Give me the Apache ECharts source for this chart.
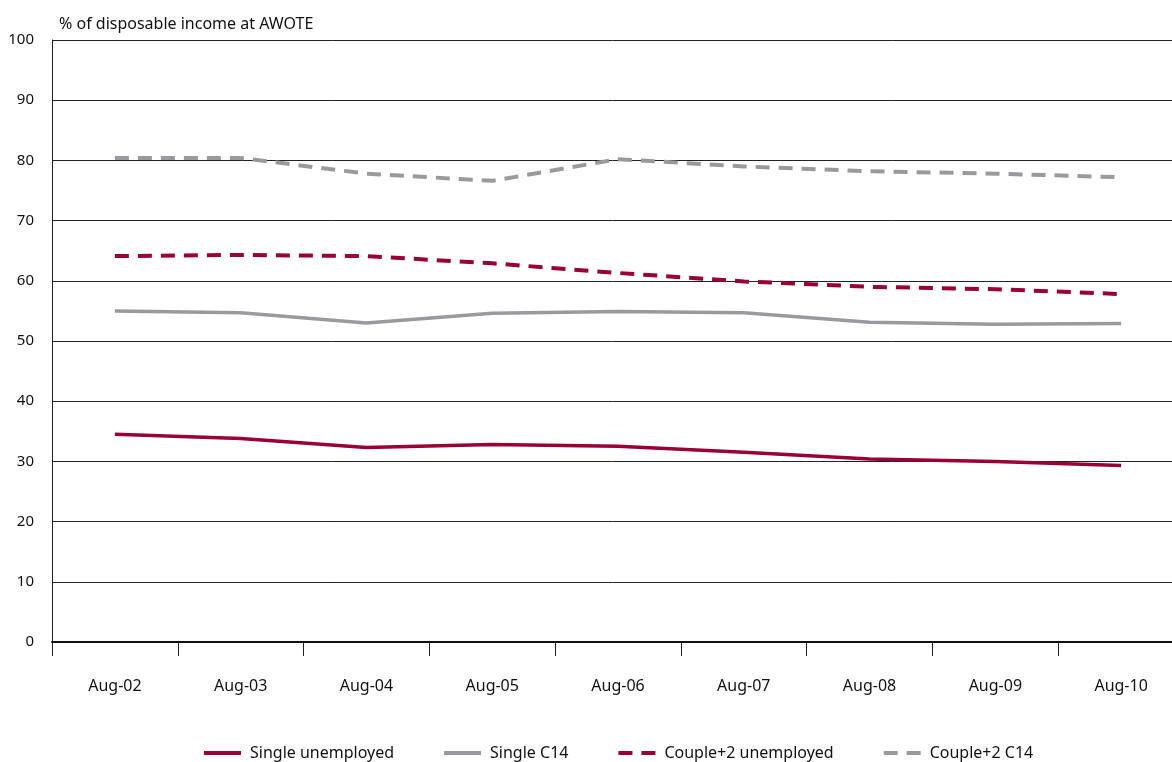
<!DOCTYPE html>
<html>
<head>
<meta charset="utf-8">
<script src="https://cdn.jsdelivr.net/npm/echarts@6/dist/echarts.min.js"></script>
<style>
  html, body { margin: 0; padding: 0; background: #fff; }
  #chart { width: 1172px; height: 762px; }
</style>
</head>
<body>
<div id="chart"></div>
<script>
// Replacement rates by household type, August of each year
const categories = ['Aug-02', 'Aug-03', 'Aug-04', 'Aug-05', 'Aug-06', 'Aug-07', 'Aug-08', 'Aug-09', 'Aug-10'];
const singleUnemployed = [34.5, 33.8, 32.3, 32.8, 32.5, 31.5, 30.4, 30.0, 29.3];
const singleC14 = [55.0, 54.7, 53.0, 54.6, 54.9, 54.7, 53.1, 52.8, 52.9];
const coupleUnemployed = [64.1, 64.3, 64.1, 62.9, 61.3, 59.9, 59.0, 58.6, 57.8];
const coupleC14 = [80.4, 80.4, 77.8, 76.6, 80.2, 79.0, 78.2, 77.8, 77.2];
const yTicks = { min: 0, max: 100, interval: 10 };

const RED = '#990033';
const GREY = '#9a9a9e';
const FONT = 'Noto Sans';

function lineSeries(name, data, color, dashed) {
  return {
    name: name,
    type: 'line',
    data: data,
    symbol: 'none',
    silent: true,
    lineStyle: {
      color: color,
      width: dashed ? 4 : 3.5,
      type: dashed ? [14, 9] : 'solid',
      cap: 'butt'
    },
    itemStyle: { color: color }
  };
}

const chart = echarts.init(document.getElementById('chart'), null, { renderer: 'canvas' });
chart.setOption({
  animation: false,
  backgroundColor: '#ffffff',
  textStyle: { fontFamily: FONT },
  title: {
    text: '% of disposable income at AWOTE',
    left: 54,
    top: 11,
    textStyle: { fontFamily: FONT, fontSize: 16, fontWeight: 'normal', color: '#111' }
  },
  // the last category band runs a little past the right edge of the page
  grid: { left: 52, top: 40, width: 1132, bottom: 120, containLabel: false, outerBoundsMode: 'none' },
  legend: {
    left: 197,
    top: 740,
    itemWidth: 37,
    itemHeight: 10,
    itemGap: 48,
    selectedMode: false,
    itemStyle: { color: 'transparent', borderWidth: 0, opacity: 0 },
    lineStyle: { width: 4 },
    textStyle: { fontFamily: FONT, fontSize: 16, color: '#111', padding: [0, 0, 0, 4] },
    data: ['Single unemployed', 'Single C14', 'Couple+2 unemployed', 'Couple+2 C14']
  },
  xAxis: {
    type: 'category',
    data: categories,
    boundaryGap: true,
    axisLine: { show: true, lineStyle: { color: '#111', width: 2 } },
    axisTick: { show: true, length: 14, lineStyle: { color: '#222', width: 1 } },
    axisLabel: { margin: 36, fontFamily: FONT, fontSize: 16, color: '#111' },
    splitLine: { show: false }
  },
  yAxis: {
    type: 'value',
    min: yTicks.min,
    max: yTicks.max,
    interval: yTicks.interval,
    axisLine: { show: true, lineStyle: { color: '#222', width: 1 } },
    axisTick: { show: false },
    axisLabel: { margin: 18, fontFamily: FONT, fontSize: 15, color: '#111' },
    splitLine: { show: true, lineStyle: { color: '#222', width: 1 } }
  },
  series: [
    lineSeries('Single unemployed', singleUnemployed, RED, false),
    lineSeries('Single C14', singleC14, GREY, false),
    lineSeries('Couple+2 unemployed', coupleUnemployed, RED, true),
    lineSeries('Couple+2 C14', coupleC14, GREY, true)
  ]
});
</script>
</body>
</html>
